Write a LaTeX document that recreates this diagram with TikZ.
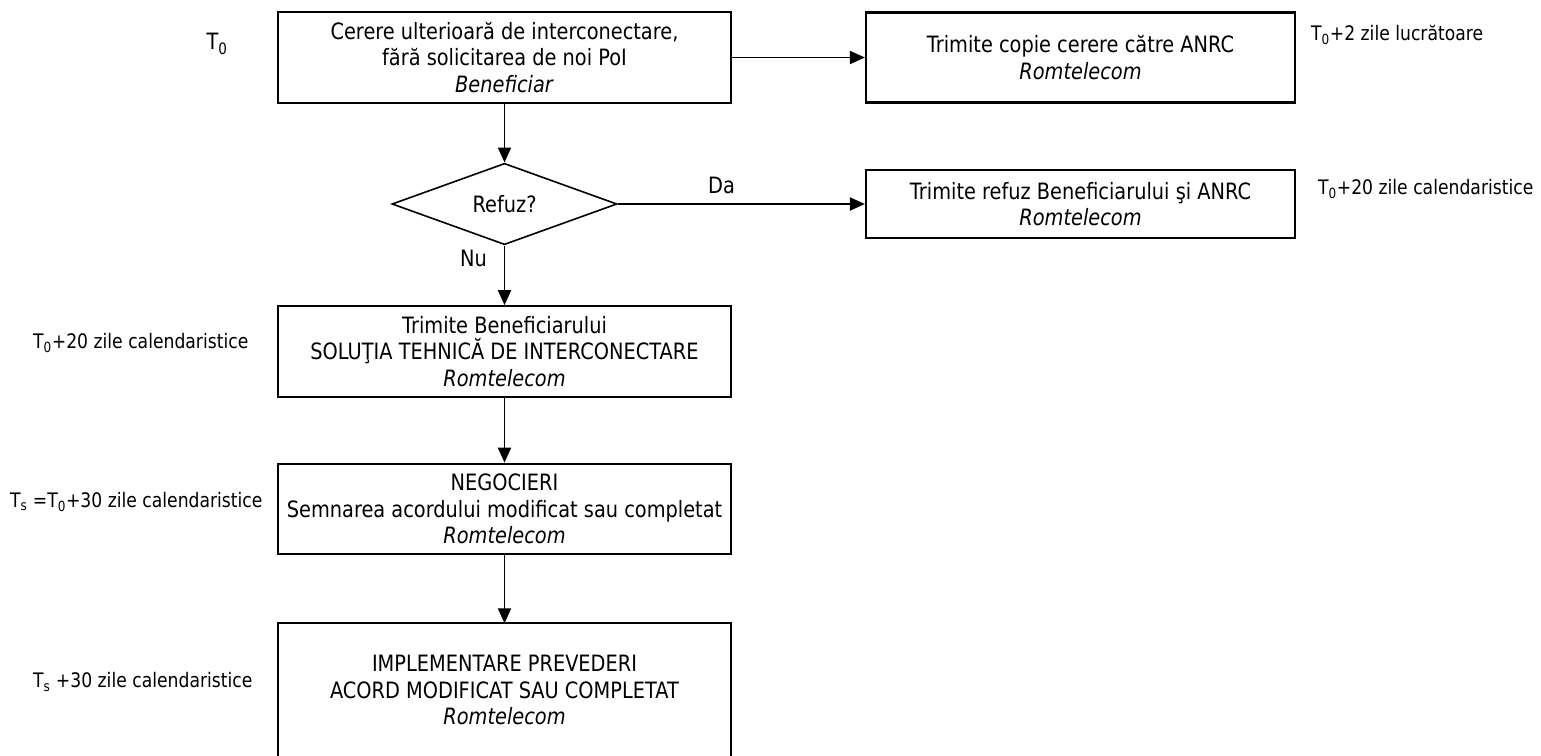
\documentclass[tikz,border=0pt]{standalone}
\usepackage{fontspec}
\setmainfont{DejaVu Sans}[FakeStretch=0.86]
\usetikzlibrary{arrows.meta}
\usetikzlibrary{shapes}

\begin{document}
\begin{tikzpicture}[x=1pt, y=-1pt,
        every node/.style={font=\fontsize{22.5}{26.5}\selectfont, align=center, inner sep=0pt},
        time/.style={font=\fontsize{20}{24}\selectfont},
        box/.style={draw, line width=2.2pt, minimum width=453pt, minimum height=90.5pt},
        sidebox/.style={draw, line width=2.2pt, minimum width=429pt},
        choice/.style={draw, diamond, line width=1.6pt, minimum width=225pt, minimum height=67pt},
        flow/.style={-{Triangle[length=15pt, width=13pt]}, line width=1.9pt}]
        \useasboundingbox (0, 0) rectangle (1541, 755);

        \node[box] (req) at (504.5, 57.5) {Cerere ulterioară de interconectare,\\ fără solicitarea de noi PoI\\ \textit{Beneficiar}};
        \node[sidebox, minimum height=90pt] (copy) at (1080.5, 57.5) {Trimite copie cerere către ANRC\\ \textit{Romtelecom}};
        \node[choice] (dec) at (504.5, 204) {Refuz?};
        \node[sidebox, minimum height=68pt] (refuse) at (1080.5, 204) {Trimite refuz Beneficiarului şi ANRC\\ \textit{Romtelecom}};
        \node[box] (sol) at (504.5, 351.5) {Trimite Beneficiarului\\ SOLUŢIA TEHNICĂ DE INTERCONECTARE\\ \textit{Romtelecom}};
        \node[box] (neg) at (504.5, 509) {NEGOCIERI\\ Semnarea acordului modificat sau completat\\ \textit{Romtelecom}};
        \node[minimum width=453pt, minimum height=133pt] (impl) at (504.5, 690) {IMPLEMENTARE PREVEDERI\\ ACORD MODIFICAT SAU COMPLETAT\\ \textit{Romtelecom}};
        \draw[line width=2.2pt] (impl.south west) -- (impl.north west) -- (impl.north east) -- (impl.south east);

        \node (t0) at (217, 44) {T\textsubscript{0}};
        \node[time, anchor=west] (tcopy) at (1311, 35) {T\textsubscript{0}+2 zile lucrătoare};
        \node[time, anchor=west] (trefuse) at (1318, 189) {T\textsubscript{0}+20 zile calendaristice};
        \node[time, anchor=west] (tsol) at (33, 343) {T\textsubscript{0}+20 zile calendaristice};
        \node[time, anchor=west] (tneg) at (10, 502) {T\textsubscript{s} =T\textsubscript{0}+30 zile calendaristice};
        \node[time, anchor=west] (timpl) at (33, 682) {T\textsubscript{s} +30 zile calendaristice};

        \draw[flow] (req) -- (copy);
        \draw[flow] (req) -- (dec);
        \draw[flow] (dec) -- node[pos=0.42, yshift=19pt] {Da} (refuse);
        \draw[flow] (dec) -- node[pos=0.22, xshift=-31pt] {Nu} (sol);
        \draw[flow] (sol) -- (neg);
        \draw[flow] (neg) -- (impl);

    \end{tikzpicture}
\end{document}
